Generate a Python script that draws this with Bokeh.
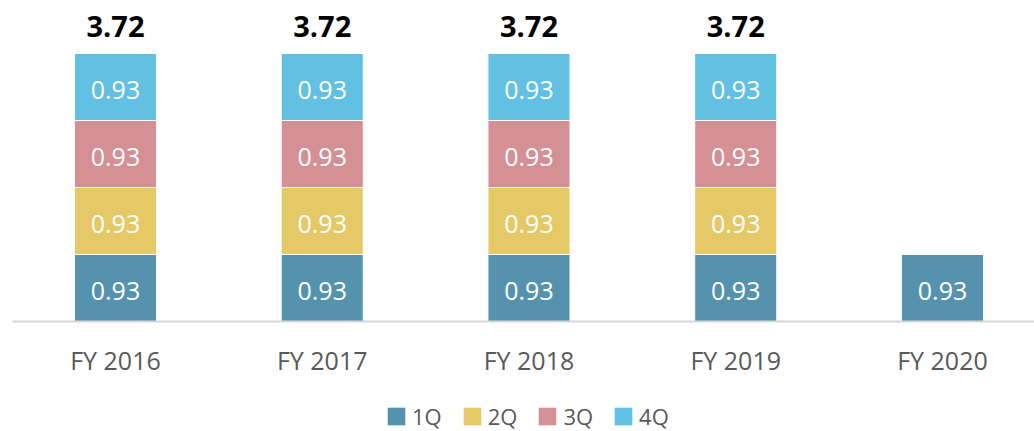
from bokeh.plotting import figure
from bokeh.layouts import column
from bokeh.models import ColumnDataSource, Range1d, FixedTicker, Legend, LegendItem
from bokeh.core.properties import value
from bokeh.embed import file_html
from bokeh.resources import INLINE

# ---- data ----
years = ["FY 2016", "FY 2017", "FY 2018", "FY 2019", "FY 2020"]
quarters = ["1Q", "2Q", "3Q", "4Q"]
q1 = [0.93, 0.93, 0.93, 0.93, 0.93]
q2 = [0.93, 0.93, 0.93, 0.93, 0.0]
q3 = [0.93, 0.93, 0.93, 0.93, 0.0]
q4 = [0.93, 0.93, 0.93, 0.93, 0.0]
totals = [3.72, 3.72, 3.72, 3.72]
colors = ["#5592AE", "#E4C966", "#D49094", "#62C0E2"]

FONT = "Open Sans"
xs = list(range(len(years)))

p = figure(width=1034, height=381, output_backend="svg", toolbar_location=None,
           x_range=Range1d(-0.498, 4.445), y_range=Range1d(0, 4.456),
           min_border_left=12, min_border_right=0, min_border_top=0, min_border_bottom=60,
           y_axis_location=None)
p.outline_line_color = None
p.xgrid.grid_line_color = None
p.ygrid.grid_line_color = None

series = [q1, q2, q3, q4]
bottoms = [0.0] * len(years)
lab_x, lab_y, lab_t = [], [], []
for name, vals, col in zip(quarters, series, colors):
    bx, bb, bt = [], [], []
    for i, v in enumerate(vals):
        if v > 0:
            bx.append(xs[i]); bb.append(bottoms[i]); bt.append(bottoms[i] + v)
            lab_x.append(xs[i]); lab_y.append(bottoms[i] + v / 2); lab_t.append(f"{v:.2f}")
            bottoms[i] += v
    src = ColumnDataSource(dict(x=bx, bottom=bb, top=bt))
    p.vbar(x="x", bottom="bottom", top="top", width=0.397, source=src,
           fill_color=col, line_color="white", line_width=1)

p.text(x=lab_x, y=lab_y, text=lab_t, text_color="white",
       text_font=value(FONT), text_font_size="25px",
       text_align="center", text_baseline="alphabetic", y_offset=3)

p.text(x=xs[:len(totals)], y=totals, text=[f"{t:.2f}" for t in totals],
       text_color="black", text_font=value(FONT), text_font_size="29px",
       text_font_style="bold", text_align="center", text_baseline="alphabetic",
       y_offset=-27)

ax = p.xaxis[0]
ax.ticker = FixedTicker(ticks=xs)
ax.major_label_overrides = {i: y for i, y in zip(xs, years)}
ax.axis_line_color = "#D6D6D6"
ax.axis_line_width = 2
ax.major_tick_line_color = None
ax.minor_tick_line_color = None
ax.major_tick_out = 0
ax.major_label_standoff = 21
ax.major_label_text_font = FONT
ax.major_label_text_font_size = "25px"
ax.major_label_text_color = "#595959"

# ---- legend strip (placeholder swatch renderers sit outside the visible range) ----
lg = figure(width=1034, height=50, output_backend="svg", toolbar_location=None,
            x_range=Range1d(0, 1), y_range=Range1d(0, 1),
            min_border=0, x_axis_location=None, y_axis_location=None)
lg.outline_line_color = None
lg.xgrid.grid_line_color = None
lg.ygrid.grid_line_color = None
items = []
for name, col in zip(quarters, colors):
    r = lg.rect(x=[-5], y=[-5], width=0.1, height=0.1,
                fill_color=col, line_color=None)
    items.append(LegendItem(label=name, renderers=[r]))
legend = Legend(items=items, orientation="horizontal", location=(373, 0),
                label_text_font=FONT, label_text_font_size="22px",
                label_text_color="#595959", glyph_width=22, glyph_height=22,
                label_standoff=5, spacing=19, padding=0, margin=0,
                border_line_color=None, background_fill_alpha=0)
lg.add_layout(legend)

layout = column(p, lg, spacing=0)
open("out.html", "w").write(file_html(layout, INLINE))
